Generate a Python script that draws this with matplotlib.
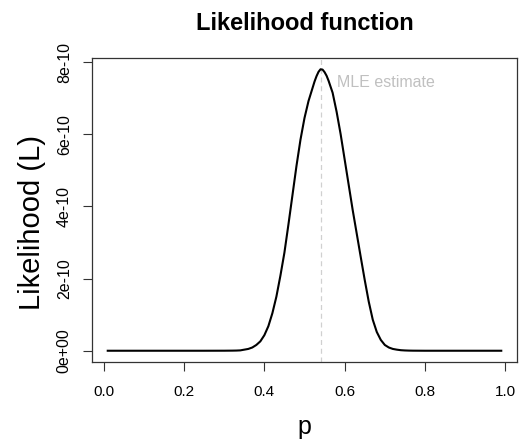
import numpy as np
import matplotlib
matplotlib.use("Agg")
import matplotlib.pyplot as plt

plt.rcParams['font.family'] = ['Liberation Sans', 'DejaVu Sans']

# values, likelihood in units of 1e-10
p = [0.01, 0.05, 0.10, 0.15, 0.20, 0.25, 0.30, 0.32,
     0.33, 0.34, 0.35, 0.36, 0.37, 0.38, 0.39, 0.40, 0.41, 0.42,
     0.43, 0.44, 0.45, 0.46, 0.47, 0.48, 0.49, 0.50, 0.51, 0.52,
     0.525, 0.53, 0.535, 0.54, 0.545, 0.55, 0.555, 0.56, 0.57,
     0.58, 0.59, 0.60, 0.61, 0.62,
     0.63, 0.64, 0.65, 0.66, 0.67, 0.68, 0.69, 0.70, 0.71, 0.72,
     0.73, 0.74, 0.75, 0.76, 0.77, 0.80, 0.85, 0.90, 0.95, 0.99]
lik = [0, 0, 0, 0, 0, 0, 0.001, 0.003,
       0.005, 0.01, 0.03, 0.05, 0.09, 0.16, 0.26, 0.43, 0.68, 1.04,
       1.50, 2.08, 2.72, 3.50, 4.31, 5.12, 5.85, 6.45, 6.92, 7.28,
       7.46, 7.61, 7.73, 7.80, 7.79, 7.72, 7.62, 7.48, 7.15,
       6.62, 6.00, 5.30, 4.60, 3.90,
       3.25, 2.60, 1.96, 1.36, 0.86, 0.52, 0.30, 0.16, 0.09, 0.05,
       0.03, 0.015, 0.008, 0.004, 0.002, 0, 0, 0, 0, 0]
mle = 0.54
xticks = [0.0, 0.2, 0.4, 0.6, 0.8, 1.0]
yticks = [0, 2e-10, 4e-10, 6e-10, 8e-10]
ytick_labels = ['0e+00', '2e-10', '4e-10', '6e-10', '8e-10']

L = np.array(lik) * 1e-10

fig = plt.figure(figsize=(5.19, 4.42), dpi=100)
ax = fig.add_axes([92 / 519, 1 - 362 / 442, (517 - 92) / 519, (362 - 58) / 442])

ax.axvline(mle, color='#d0d0d0', lw=0.9, ls=(0, (4, 3)), zorder=1)
ax.plot(p, L, color='black', lw=1.5, zorder=2)
ax.text(0.58, 7.42e-10, 'MLE estimate', color='#c0c0c0', fontsize=11.5,
        ha='left', va='center')

xr = max(p) - min(p)
ax.set_xlim(min(p) - 0.04 * xr, max(p) + 0.04 * xr)
ax.set_ylim(-0.04 * L.max(), 1.04 * L.max())

ax.set_xticks(xticks)
ax.set_xticklabels(['0.0', '0.2', '0.4', '0.6', '0.8', '1.0'], fontsize=11)
ax.set_yticks(yticks)
ax.set_yticklabels(ytick_labels, fontsize=11.5, rotation=90, va='center')
ax.tick_params(axis='x', length=6.5, width=0.8, pad=10, color='#333333')
ax.tick_params(axis='y', length=6.5, width=0.8, pad=8, color='#333333')
for s in ax.spines.values():
    s.set_linewidth(0.9)
    s.set_color('#333333')

ax.set_title('Likelihood function', fontsize=17, fontweight='bold', pad=20)
ax.set_xlabel('p', fontsize=18, va='baseline')
ax.xaxis.set_label_coords(0.5, -0.238)
ax.set_ylabel('Likelihood (L)', fontsize=21, va='center')
ax.yaxis.set_label_coords(-0.14, 0.46)

fig.savefig('out.png', dpi=100)
